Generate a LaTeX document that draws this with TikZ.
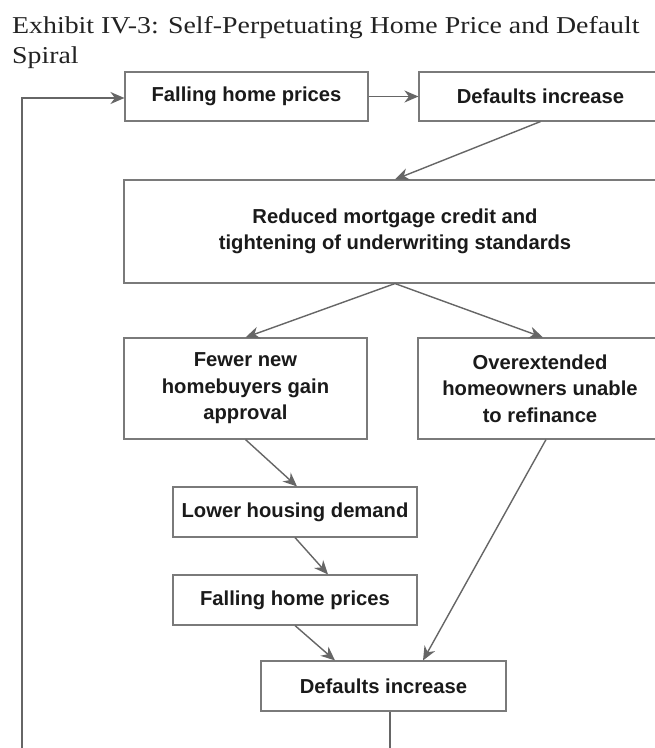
\documentclass[tikz,border=0pt]{standalone}
\usepackage{fontspec}
\setmainfont{Liberation Serif}
\newfontfamily\boxfont{Liberation Sans}
\newfontfamily\titlefont{Liberation Serif}[FakeStretch=1.15]
\usetikzlibrary{arrows.meta,calc}
\definecolor{boxgray}{HTML}{7A7A7A}
\definecolor{arrgray}{HTML}{666666}
\definecolor{txtgray}{HTML}{1A1A1A}
\definecolor{titlegray}{HTML}{222222}
\tikzset{
  flowbox/.style={draw=boxgray, line width=1.1pt, inner sep=0pt, align=center,
    text=txtgray, font=\boxfont\bfseries\fontsize{20.2}{26.5}\selectfont},
  flowarrow/.style={draw=arrgray, line width=1.4pt,
    -{Stealth[length=14pt,width=12pt,inset=4.5pt]}},
  flowline/.style={draw=arrgray, line width=1.4pt}
}
\begin{document}
\begin{tikzpicture}[x=1pt,y=-1pt]
\clip (0,0) rectangle (655,748);
\fill[white] (0,0) rectangle (655,748);
\node[anchor=base west, inner sep=0pt, align=left, text=titlegray,
  font=\titlefont\fontsize{24.2}{30}\selectfont] (title) at (12,63)
  {Exhibit IV-3: Self-Perpetuating Home Price and Default\\Spiral};
\node[flowbox, minimum width=243pt, minimum height=49pt] (fall1) at (246.5,96.5) {Falling home prices};
\node[flowbox, minimum width=243pt, minimum height=49pt] (def1) at (540.5,96.5) {Defaults increase};
\node[flowbox, minimum width=542pt, minimum height=103pt] (credit) at (395,231.5)
  {Reduced mortgage credit and\\tightening of underwriting standards};
\node[flowbox, minimum width=243pt, minimum height=101pt] (fewer) at (245.5,388.5)
  {Fewer new\\homebuyers gain\\approval};
\node[flowbox, minimum width=244pt, minimum height=101pt] (over) at (540,388.5)
  {Overextended\\homeowners unable\\to refinance};
\node[flowbox, minimum width=244pt, minimum height=50pt] (lower) at (295,512) {Lower housing demand};
\node[flowbox, minimum width=244pt, minimum height=50pt] (fall2) at (295,600) {Falling home prices};
\node[flowbox, minimum width=245pt, minimum height=50pt] (def2) at (383.5,686) {Defaults increase};
\coordinate (loopcorner) at (22,770);
\draw[flowarrow] (fall1.east) -- (def1.west);
\draw[flowarrow] (def1.south) -- (credit.north);
\draw[flowarrow] (credit.south) -- (fewer.north);
\draw[flowarrow] (credit.south) -- ($(over.north)+(3,0)$);
\draw[flowarrow] (fewer.south) -- ($(lower.north)+(2,0)$);
\draw[flowarrow] (lower.south) -- ($(fall2.north)+(33,0)$);
\draw[flowarrow] (fall2.south) -- ($(def2.north)+(-48.5,0)$);
\draw[flowarrow] ($(over.south)+(6,0)$) -- ($(def2.north)+(39.5,0)$);
\draw[flowarrow] ($(def2.south)+(6.5,0)$) |- (loopcorner) |- ($(fall1.west)+(0,1.5)$);
\end{tikzpicture}
\end{document}
